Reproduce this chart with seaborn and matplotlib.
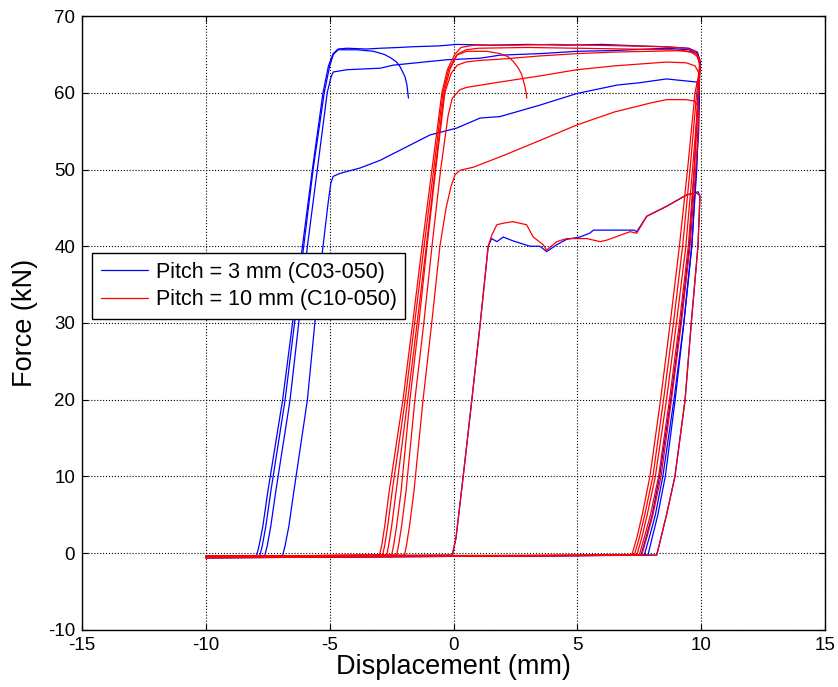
import pandas as pd
import seaborn as sns
import matplotlib.pyplot as plt
from matplotlib.lines import Line2D

sns.set_style("white")
plt.rcParams['font.family'] = ['Liberation Sans', 'DejaVu Sans']
plt.rcParams['axes.unicode_minus'] = False
plt.rcParams['text.color'] = 'k'
plt.rcParams['axes.labelcolor'] = 'k'

# Force-displacement loops: (displacement mm, force kN)
# pitch = 3 mm specimens
c03_a = [(-10.0, -0.45), (-7.95, -0.3), (-7.85, 1.0), (-7.7, 3.5), (-7.5, 8.0), (-6.9, 20.0),
         (-6.5, 30.0), (-6.1, 40.0), (-5.7, 50.0), (-5.27, 60.0), (-5.05, 63.5), (-4.86, 65.1),
         (-4.66, 65.7), (-4.31, 65.8), (-3.5, 65.7), (-2.96, 65.8), (-2.2, 65.9), (-1.62, 66.0),
         (-0.6, 66.1), (0.13, 66.3), (1.5, 66.2), (3.0, 66.3), (4.5, 66.2), (6.0, 66.3),
         (7.5, 66.1), (8.5, 66.0), (9.5, 65.8), (9.85, 65.3), (9.97, 64.0), (9.87, 60.0),
         (9.72, 50.0), (9.52, 40.0), (9.17, 30.0), (8.77, 20.0), (8.32, 10.0), (8.02, 5.0),
         (7.77, 2.0), (7.57, -0.25), (-10.0, -0.5)]
c03_b = [(-10.0, -0.45), (-7.82, -0.3), (-7.72, 1.0), (-7.58, 3.5), (-7.38, 8.0), (-6.8, 20.0),
         (-6.42, 30.0), (-6.05, 40.0), (-5.67, 50.0), (-5.22, 60.0), (-5.0, 63.5), (-4.85, 65.0),
         (-4.66, 65.6), (-3.9, 65.6), (-3.23, 65.4), (-2.8, 65.0), (-2.56, 64.6), (-2.3, 64.0),
         (-2.16, 63.4), (-1.96, 62.1), (-1.88, 61.0), (-1.82, 59.3)]
c03_c = [(-10.0, -0.45), (-7.62, -0.3), (-7.52, 1.0), (-7.38, 3.5), (-7.18, 8.0), (-6.6, 20.0),
         (-6.25, 30.0), (-5.9, 40.0), (-5.5, 50.0), (-5.1, 60.0), (-4.95, 62.0), (-4.86, 62.7),
         (-4.31, 63.0), (-2.96, 63.2), (-2.43, 63.6), (-1.5, 63.9), (-0.27, 64.3), (1.07, 64.5),
         (1.88, 64.9), (3.5, 65.1), (4.98, 65.4), (6.5, 65.5), (8.6, 65.8), (9.5, 65.6),
         (9.85, 65.0), (9.95, 63.8), (9.92, 60.0), (9.82, 50.0), (9.62, 40.0), (9.3, 30.0),
         (8.9, 20.0), (8.45, 10.0), (8.15, 5.0), (7.9, 2.0), (7.7, -0.25), (-10.0, -0.6)]
c03_d = [(-10.0, -0.45), (-6.9, -0.3), (-6.8, 1.0), (-6.65, 3.5), (-6.45, 8.0), (-5.9, 20.0),
         (-5.6, 30.0), (-5.27, 40.0), (-5.05, 46.0), (-4.95, 48.3), (-4.86, 49.1), (-4.58, 49.5),
         (-3.77, 50.2), (-2.96, 51.2), (-1.62, 53.4), (-0.95, 54.5), (0.13, 55.4), (1.07, 56.7),
         (1.88, 56.9), (3.5, 58.4), (4.98, 59.9), (6.6, 61.0), (7.5, 61.3), (8.6, 61.8),
         (9.2, 61.6), (9.82, 61.4), (9.93, 60.0), (9.9, 55.0), (9.8, 50.0), (9.62, 40.0),
         (9.3, 30.0), (8.95, 20.0), (8.55, 10.0), (8.25, 5.0), (8.02, 2.0), (7.85, -0.25),
         (-10.0, -0.5)]
c03_e = [(-10.0, -0.45), (-0.05, -0.25), (0.1, 2.0), (0.39, 10.0), (0.74, 20.0), (1.08, 30.0),
         (1.4, 40.0), (1.54, 41.0), (1.75, 40.6), (2.01, 41.2), (2.4, 40.7), (3.09, 40.0),
         (3.49, 40.0), (3.76, 39.3), (4.17, 40.2), (4.57, 40.9), (5.1, 41.2), (5.5, 41.7),
         (5.65, 42.1), (7.28, 42.1), (7.4, 41.9), (7.8, 43.9), (8.6, 45.2), (9.42, 46.7),
         (9.88, 47.1), (9.95, 46.5), (9.87, 40.0), (9.6, 30.0), (9.35, 20.0), (8.94, 10.0),
         (8.6, 5.0), (8.3, 1.0), (8.2, -0.25), (-10.0, -0.6)]

# pitch = 10 mm specimens
c10_a = [(-10.0, -0.4), (-2.99, -0.25), (-2.9, 1.0), (-2.78, 3.5), (-2.6, 8.0), (-2.04, 20.0),
         (-1.65, 30.0), (-1.27, 40.0), (-0.87, 50.0), (-0.47, 60.0), (-0.25, 63.0), (0.05, 65.0),
         (0.3, 65.9), (0.8, 66.2), (2.5, 66.2), (4.0, 66.3), (5.5, 66.2), (7.0, 66.1),
         (8.5, 66.0), (9.4, 65.8), (9.8, 65.3), (9.95, 64.2), (9.88, 62.0), (9.75, 60.0),
         (9.45, 50.0), (9.12, 40.0), (8.75, 30.0), (8.36, 20.0), (7.93, 10.0), (7.62, 5.0),
         (7.4, 2.0), (7.2, -0.25), (-10.0, -0.45)]
c10_b = [(-10.0, -0.4), (-2.87, -0.25), (-2.78, 1.0), (-2.66, 3.5), (-2.48, 8.0), (-1.95, 20.0),
         (-1.57, 30.0), (-1.19, 40.0), (-0.8, 50.0), (-0.43, 60.0), (-0.2, 63.0), (0.15, 65.0),
         (0.5, 65.6), (1.0, 65.8), (3.0, 65.9), (5.0, 65.8), (7.0, 65.7), (8.8, 65.6),
         (9.6, 65.3), (9.9, 64.6), (9.95, 63.0), (9.82, 60.0), (9.55, 50.0), (9.25, 40.0),
         (8.88, 30.0), (8.48, 20.0), (8.05, 10.0), (7.72, 5.0), (7.5, 2.0), (7.3, -0.25),
         (-10.0, -0.55)]
c10_c = [(-10.0, -0.4), (-2.7, -0.25), (-2.62, 1.0), (-2.5, 3.5), (-2.32, 8.0), (-1.85, 20.0),
         (-1.47, 30.0), (-1.1, 40.0), (-0.74, 50.0), (-0.38, 60.0), (-0.15, 63.0), (0.13, 64.9),
         (0.53, 65.4), (1.34, 65.4), (1.88, 65.1), (2.2, 64.7), (2.41, 64.1), (2.62, 63.2),
         (2.75, 62.4), (2.87, 61.0), (2.93, 60.0), (2.96, 59.3)]
c10_d = [(-10.0, -0.4), (-2.5, -0.25), (-2.42, 1.0), (-2.3, 3.5), (-2.12, 8.0), (-1.76, 20.0),
         (-1.4, 30.0), (-1.07, 40.0), (-0.72, 50.0), (-0.35, 60.0), (-0.1, 62.5), (0.15, 63.6),
         (0.5, 64.0), (1.0, 64.2), (2.0, 64.4), (3.5, 64.8), (5.0, 65.1), (6.5, 65.3),
         (8.0, 65.4), (9.3, 65.5), (9.8, 65.1), (9.96, 63.5), (9.9, 60.0), (9.65, 50.0),
         (9.38, 40.0), (9.0, 30.0), (8.6, 20.0), (8.15, 10.0), (7.82, 5.0), (7.6, 2.0),
         (7.4, -0.25), (-10.0, -0.35)]
c10_e = [(-10.0, -0.4), (-2.3, -0.25), (-2.22, 1.0), (-2.1, 3.5), (-1.92, 8.0), (-1.56, 20.0),
         (-1.2, 30.0), (-0.87, 40.0), (-0.52, 50.0), (-0.22, 57.0), (-0.05, 59.3), (0.26, 60.4),
         (0.53, 60.7), (1.88, 61.4), (3.5, 62.2), (4.98, 63.0), (6.5, 63.5), (8.6, 64.0),
         (9.4, 63.9), (9.75, 63.5), (9.92, 62.5), (9.9, 60.0), (9.72, 50.0), (9.48, 40.0),
         (9.12, 30.0), (8.72, 20.0), (8.28, 10.0), (7.95, 5.0), (7.7, 2.0), (7.5, -0.25),
         (-10.0, -0.5)]
c10_f = [(-10.0, -0.4), (-1.98, -0.25), (-1.9, 1.0), (-1.78, 3.5), (-1.6, 8.0), (-1.23, 20.0),
         (-0.88, 30.0), (-0.55, 40.0), (-0.3, 45.0), (-0.1, 47.8), (0.06, 49.3), (0.26, 49.9),
         (0.8, 50.3), (2.0, 51.8), (3.5, 53.8), (4.98, 55.8), (6.5, 57.5), (8.0, 58.7),
         (8.6, 59.1), (9.4, 59.1), (9.75, 58.9), (9.9, 58.0), (9.88, 55.0), (9.78, 50.0),
         (9.55, 40.0), (9.2, 30.0), (8.8, 20.0), (8.38, 10.0), (8.05, 5.0), (7.8, 2.0),
         (7.6, -0.25), (-10.0, -0.45)]
c10_g = [(-10.0, -0.4), (-0.05, -0.25), (0.1, 2.0), (0.39, 10.0), (0.74, 20.0), (1.08, 30.0),
         (1.4, 40.0), (1.55, 41.5), (1.75, 42.8), (2.0, 43.0), (2.4, 43.2), (2.95, 42.8),
         (3.22, 41.2), (3.62, 40.2), (3.76, 39.5), (4.17, 40.6), (4.57, 41.0), (5.38, 41.0),
         (5.92, 40.6), (6.19, 40.8), (7.13, 41.9), (7.4, 41.7), (7.8, 43.9), (8.6, 45.2),
         (9.42, 46.7), (9.82, 46.9), (9.95, 46.6), (9.87, 40.0), (9.6, 30.0), (9.35, 20.0),
         (8.94, 10.0), (8.6, 5.0), (8.3, 1.0), (8.2, -0.25), (-10.0, -0.6)]

labels = ['Pitch = 3 mm (C03-050)', 'Pitch = 10 mm (C10-050)']
colors = ['#0000ff', '#ff0000']
groups = {labels[0]: [c03_a, c03_b, c03_c, c03_d, c03_e],
          labels[1]: [c10_a, c10_b, c10_c, c10_d, c10_e, c10_f, c10_g]}

rows = []
for pitch, curves in groups.items():
    for k, pts in enumerate(curves):
        for x, y in pts:
            rows.append({'pitch': pitch, 'curve': f'{pitch} #{k}', 'x': x, 'y': y})
df = pd.DataFrame(rows)

fig = plt.figure(figsize=(8.38, 6.87), dpi=100)
ax = fig.add_axes([0.0979, 0.083, 0.8866, 0.8937])

sns.lineplot(data=df, x='x', y='y', hue='pitch', units='curve', estimator=None,
             sort=False, hue_order=labels, palette=colors, lw=0.9, legend=False, ax=ax)

ax.set_xlim(-15, 15)
ax.set_ylim(-10, 70)
ax.set_xticks(range(-15, 16, 5))
ax.set_yticks(range(-10, 71, 10))
ax.grid(True, color='k', ls=':', lw=0.8)
ax.set_axisbelow(True)
ax.tick_params(direction='in', length=4, width=0.8, bottom=True, left=True,
               top=True, right=True, labelsize=13.5, colors='k', pad=5)
for s in ax.spines.values():
    s.set_color('k')
    s.set_linewidth(1.0)

ax.set_xlabel('Displacement (mm)', fontsize=19.5, labelpad=0)
ax.set_ylabel('Force (kN)', fontsize=19.5, labelpad=7)

handles = [Line2D([], [], color=c, lw=0.9) for c in colors]
leg = ax.legend(handles, labels, loc='upper left', bbox_to_anchor=(0.0135, 0.614),
                borderaxespad=0, fancybox=False, edgecolor='k', framealpha=1,
                fontsize=15.5, handlelength=2.2, handletextpad=0.35, borderpad=0.4,
                labelspacing=0.3)
leg.get_frame().set_linewidth(1.0)

fig.savefig('out.png', dpi=100)
